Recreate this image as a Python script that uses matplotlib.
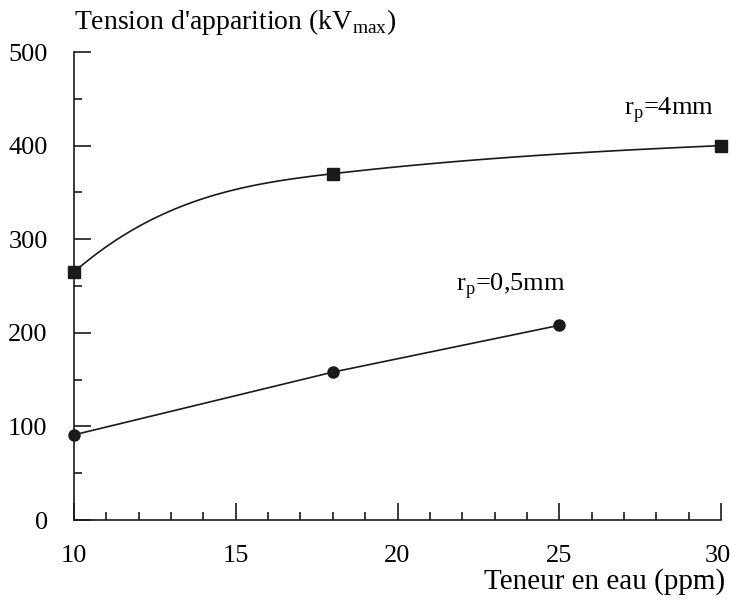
import numpy as np
import matplotlib
matplotlib.use('Agg')
import matplotlib.pyplot as plt
from matplotlib.ticker import MultipleLocator
from matplotlib.transforms import ScaledTranslation

plt.rcParams['font.family'] = ['Liberation Serif', 'DejaVu Serif']
plt.rcParams['mathtext.fontset'] = 'custom'
plt.rcParams['mathtext.rm'] = 'Liberation Serif'

# r_p = 4 mm (squares, smooth curve)
water_4 = [10, 18, 30]
volt_4 = [265, 370, 400]
slope_4 = [30, 4, 1.5]   # tangents used for the smooth curve

# r_p = 0,5 mm (circles, straight segments)
water_05 = [10, 18, 25]
volt_05 = [91, 158, 208]

x_ticks = [10, 15, 20, 25, 30]
y_ticks = [0, 100, 200, 300, 400, 500]


def hermite(xs, ys, ms, n=60):
    out_x, out_y = [], []
    for i in range(len(xs) - 1):
        h = xs[i + 1] - xs[i]
        t = np.linspace(0, 1, n)
        h00 = 2*t**3 - 3*t**2 + 1
        h10 = t**3 - 2*t**2 + t
        h01 = -2*t**3 + 3*t**2
        h11 = t**3 - t**2
        out_x.append(xs[i] + t*h)
        out_y.append(h00*ys[i] + h10*h*ms[i] + h01*ys[i+1] + h11*h*ms[i+1])
    return np.concatenate(out_x), np.concatenate(out_y)


fig = plt.figure(figsize=(7.3, 6.0), dpi=100)
ax = fig.add_axes([0.1014, 0.1333, 0.8863, 0.78])

cx, cy = hermite(water_4, volt_4, slope_4)
ax.plot(cx, cy, color='#1a1a1a', lw=1.2, clip_on=False)
ax.plot(water_4, volt_4, 's', color='#1a1a1a', ms=8, clip_on=False)

ax.plot(water_05, volt_05, '-', color='#1a1a1a', lw=1.2, clip_on=False)
ax.plot(water_05, volt_05, 'o', color='#1a1a1a', ms=8, clip_on=False)

ax.set_xlim(10, 30)
ax.set_ylim(0, 500)
ax.set_xticks(x_ticks)
ax.set_yticks(y_ticks)
ax.xaxis.set_minor_locator(MultipleLocator(1))
ax.yaxis.set_minor_locator(MultipleLocator(50))

for s in ['top', 'right']:
    ax.spines[s].set_visible(False)
for s in ['left', 'bottom']:
    ax.spines[s].set_linewidth(1.2)
    ax.spines[s].set_color('#1a1a1a')

ax.tick_params(which='major', direction='in', length=12, width=1.2, labelsize=19, color='#1a1a1a')
ax.tick_params(which='minor', direction='in', length=6, width=1.2, color='#1a1a1a')
ax.tick_params(axis='x', which='major', pad=18)
ax.tick_params(axis='y', which='major', pad=19)

# keep the "30" label inside the figure
fig.canvas.draw()
for tk in ax.xaxis.get_major_ticks():
    if tk.get_loc() == 30:
        lbl = tk.label1
        lbl.set_horizontalalignment('right')
        lbl.set_transform(lbl.get_transform() + ScaledTranslation(7/72, 0, fig.dpi_scale_trans))

ax.text(28.38, 433, r'r$_{\mathregular{p}}$=4mm', fontsize=19, ha='center', va='baseline')
ax.text(23.49, 245, r'r$_{\mathregular{p}}$=0,5mm', fontsize=19, ha='center', va='baseline')

fig.text(0.101, 1 - 22/600, r"Tension d'apparition (kV$_{\mathregular{max}}$)", fontsize=20,
         ha='left', va='center')
fig.text(0.994, 1 - 582/600, 'Teneur en eau (ppm)', fontsize=21, ha='right', va='center')

fig.savefig('out.png', dpi=100)
